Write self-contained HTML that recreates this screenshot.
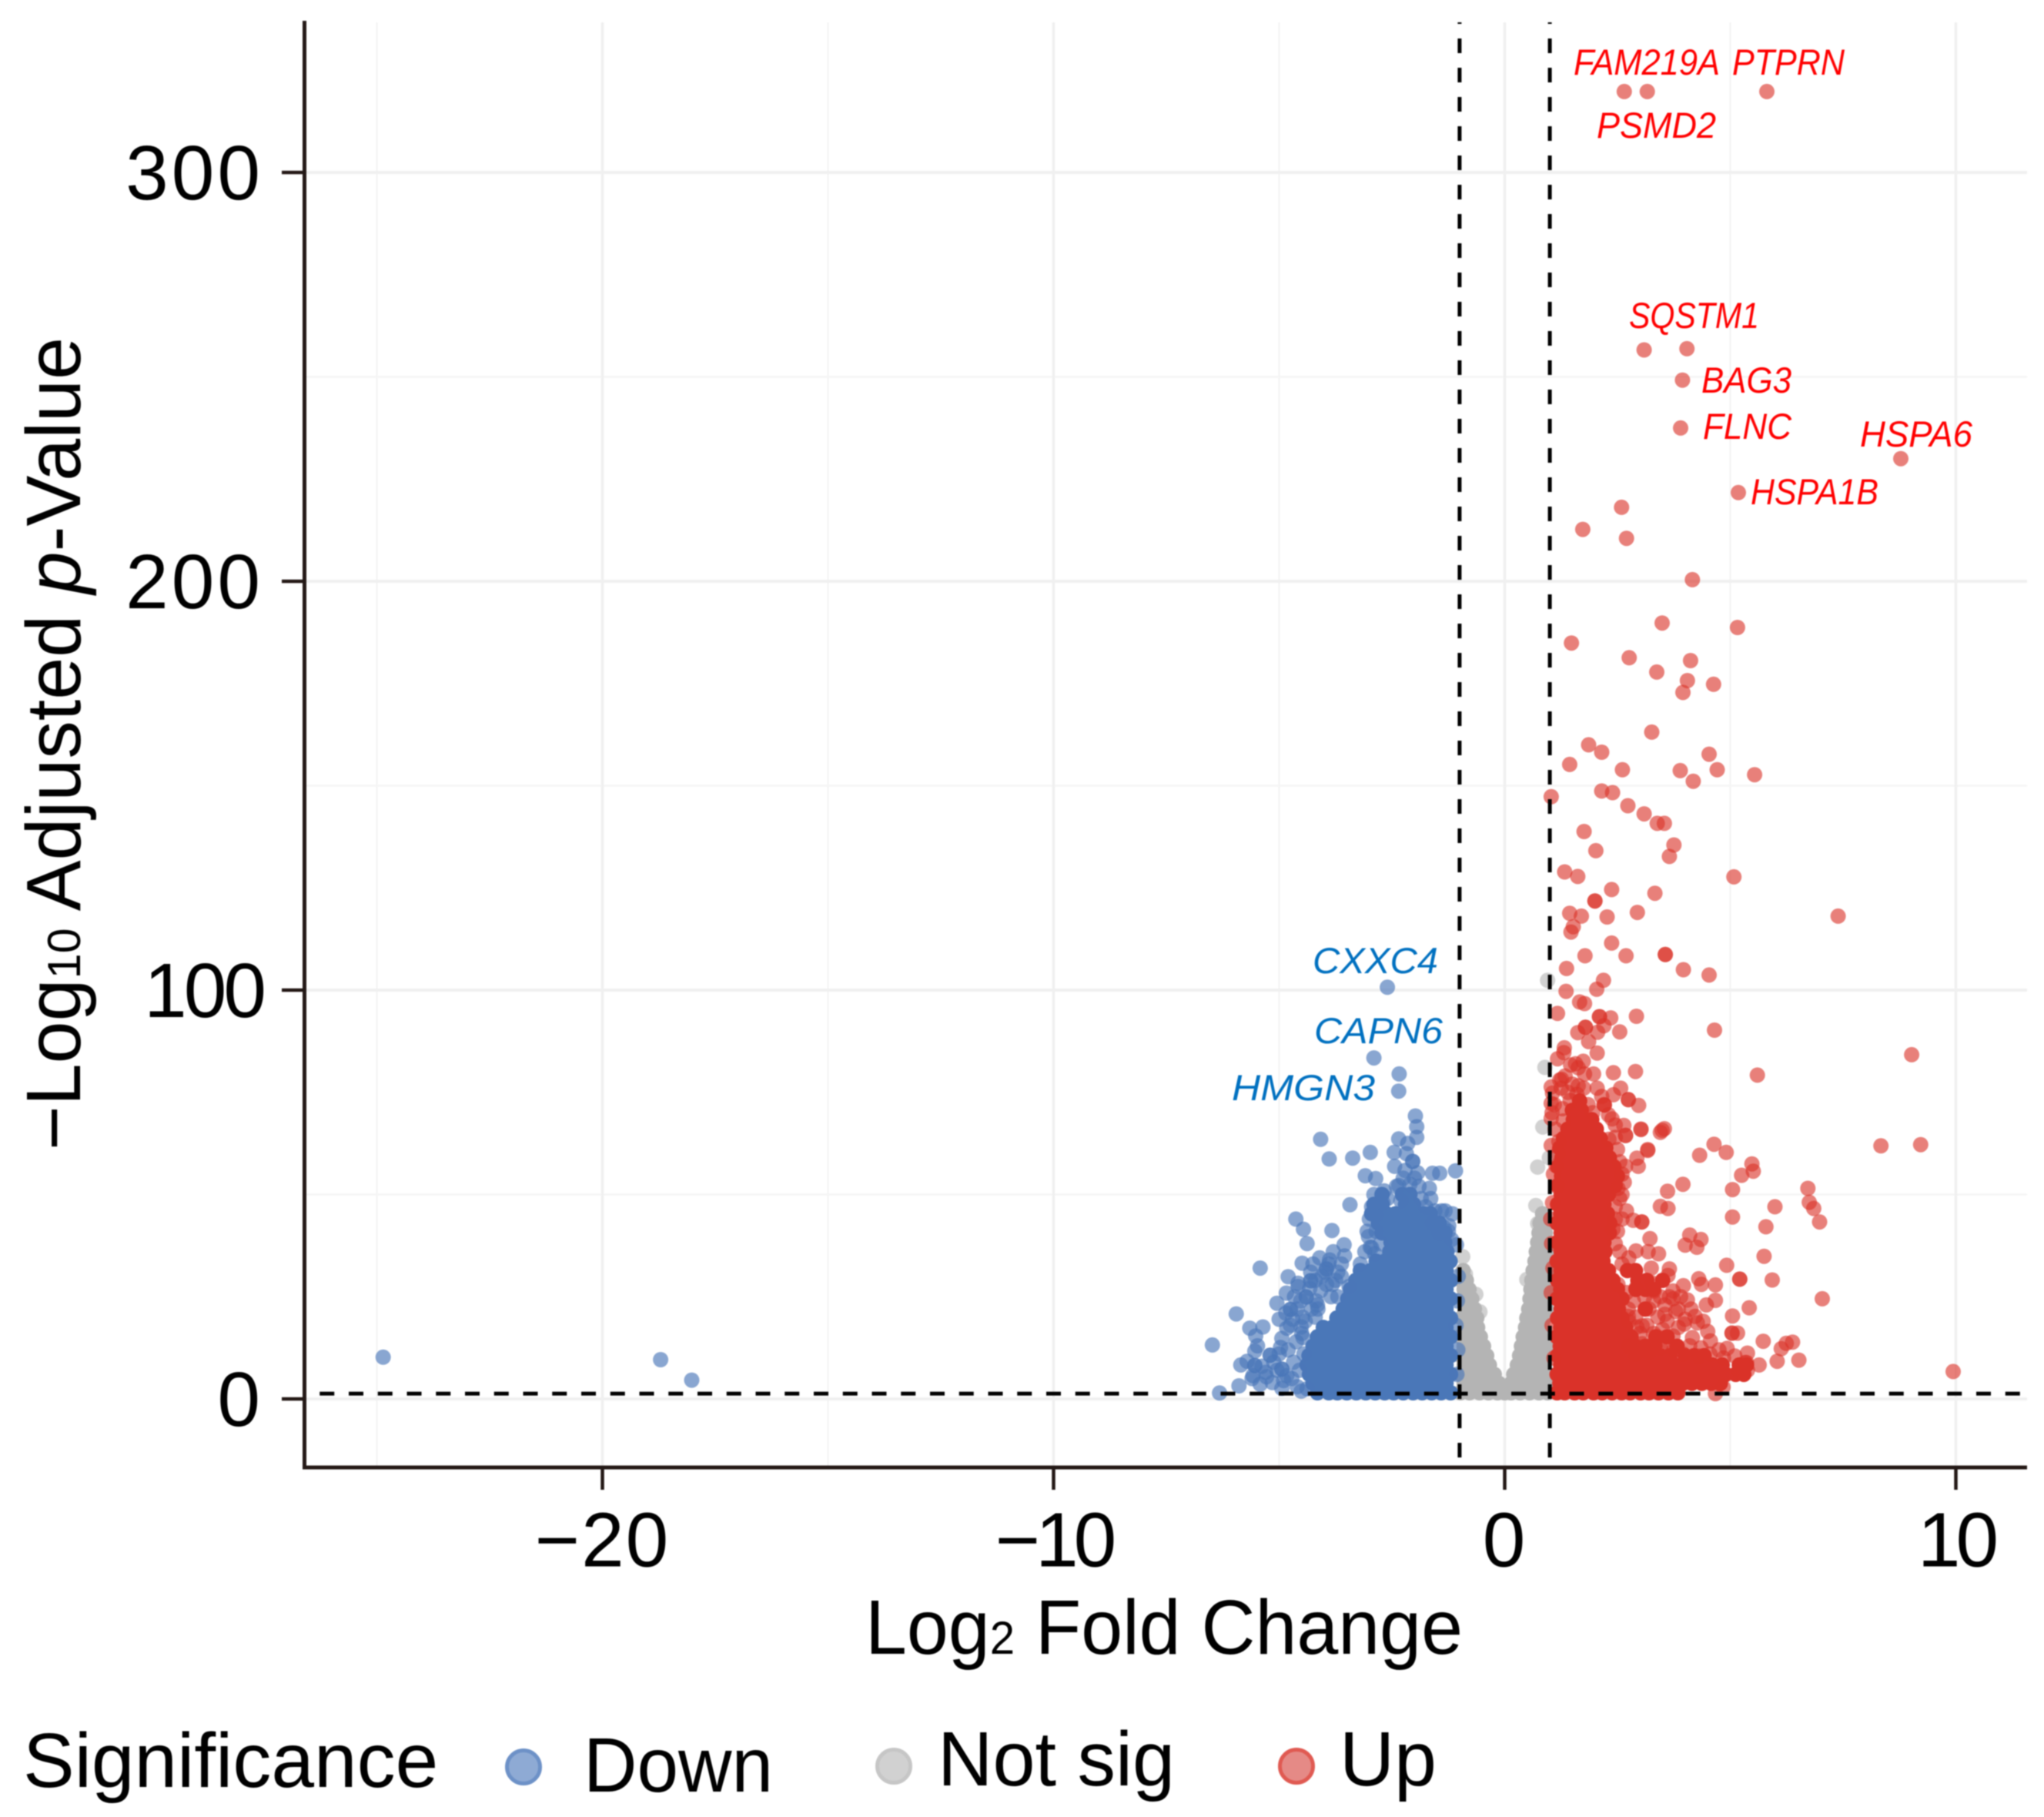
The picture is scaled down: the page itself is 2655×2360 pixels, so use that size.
<!DOCTYPE html>
<html lang="en">
<head>
<meta charset="utf-8">
<title>Volcano plot</title>
<style>
html,body{margin:0;padding:0;background:#fff}
svg{display:block;filter:blur(0.7px)}
text{font-family:"Liberation Sans",Arial,sans-serif;fill:#000}
.gene{font-size:47px;font-style:italic}
.t100{font-size:100px}
</style>
</head>
<body>
<svg id="chart" xmlns="http://www.w3.org/2000/svg" width="2655" height="2360" viewBox="0 0 2655 2360">
<rect width="2655" height="2360" fill="#fff"/>
<g id="grid"></g>
<g id="marks"></g>
<g id="refs"></g>
<g id="axes"></g>

<g>
<text class="gene" x="2044" y="97" style="fill:#f00" textLength="190" lengthAdjust="spacingAndGlyphs">FAM219A</text>
<text class="gene" x="2250" y="97" style="fill:#f00" textLength="146" lengthAdjust="spacingAndGlyphs">PTPRN</text>
<text class="gene" x="2074" y="179" style="fill:#f00" textLength="155" lengthAdjust="spacingAndGlyphs">PSMD2</text>
<text class="gene" x="2116" y="426" style="fill:#f00" textLength="169" lengthAdjust="spacingAndGlyphs">SQSTM1</text>
<text class="gene" x="2210" y="510" style="fill:#f00" textLength="117" lengthAdjust="spacingAndGlyphs">BAG3</text>
<text class="gene" x="2212" y="570" style="fill:#f00" textLength="115" lengthAdjust="spacingAndGlyphs">FLNC</text>
<text class="gene" x="2416" y="580" style="fill:#f00" textLength="146" lengthAdjust="spacingAndGlyphs">HSPA6</text>
<text class="gene" x="2274" y="655" style="fill:#f00" textLength="166" lengthAdjust="spacingAndGlyphs">HSPA1B</text>
<text class="gene" x="1705" y="1264" style="fill:#0070c0" textLength="163" lengthAdjust="spacingAndGlyphs">CXXC4</text>
<text class="gene" x="1707" y="1355" style="fill:#0070c0" textLength="167" lengthAdjust="spacingAndGlyphs">CAPN6</text>
<text class="gene" x="1600" y="1429" style="fill:#0070c0" textLength="186" lengthAdjust="spacingAndGlyphs">HMGN3</text>
</g>

<text class="t100" x="1124" y="2148" textLength="776" lengthAdjust="spacingAndGlyphs">Log<tspan font-size="60">2</tspan> Fold Change</text>
<text class="t100" transform="translate(104 1494) rotate(-90)" textLength="1056" lengthAdjust="spacingAndGlyphs">−Log<tspan font-size="60">10</tspan> Adjusted <tspan font-style="italic">p</tspan>-Value</text>

<g>
<text class="t100" x="30" y="2321">Significance</text>
<circle cx="680" cy="2295" r="21.5" fill="#8eaad4" stroke="#6d91c7" stroke-width="5"/>
<text class="t100" x="758" y="2327" textLength="246" lengthAdjust="spacingAndGlyphs">Down</text>
<circle cx="1161" cy="2294" r="21.5" fill="#d1d1d1" stroke="#c6c6c6" stroke-width="5"/>
<text class="t100" x="1218" y="2319" textLength="308" lengthAdjust="spacingAndGlyphs">Not sig</text>
<circle cx="1684" cy="2294" r="21.5" fill="#e58a86" stroke="#e05a52" stroke-width="5"/>
<text class="t100" x="1740" y="2319" textLength="126" lengthAdjust="spacingAndGlyphs">Up</text>
</g>
</svg>

<script>
// ---- axis tick values and labels ----
const xTicks = [-20, -10, 0, 10];
const xTickLabels = ['−20', '−10', '0', '10'];
const xMinorGrid = [-25, -15, -5, 5];
const yTicks = [0, 100, 200, 300];
const yTickLabels = ['0', '100', '200', '300'];
const yMinorGrid = [50, 150, 250];
const fcThresholds = [-1, 1];
const pThreshold = 1.3;

// ---- Up: individually read points ----
const upX = [2.65,3.16,5.81,3.09,4.04,3.94,3.9,8.78,5.18,2.59,1.73,2.7,4.16,3.49,5.16,1.48,2.76,4.12,3.37,4.05,4.63,3.95,3.26,1.86,2.15,1.44,4.53,2.61,3.89,4.71,5.54,4.18,1.03,2.15,2.39,2.73,3.09,3.38,3.54,1.76,3.75,2.02,3.65,
5.08,1.33,1.62,2.37,3.33,2,2,1.44,1.7,2.27,2.94,7.39,1.52,1.47,2.37,1.78,2.69,3.56,3.56,1.37,3.96,4.53,2.19,2.04,1.36,1.66,1.77,1.17,2.1,2.1,2.35,2.92,1.79,1.79,1.62,2.2,2.06,2.55,4.65,1.86,1.32,2.05,9.02,1.17,1.31,1.57,1.74,1.46,1.63,1.97,1.77,2.41,2.9,5.6,1.26,1.03,1.06,1.63,2.57,2.41,2.74,2.74,2.97,1.03,2.21,2.21,1.03,2.38,2.64,3.02,3.54,3.45,2.68,2.31,3.17,
8.34,9.22,4.64,4.32,4.91,5.48,5.51,5.25,3.95,3.61,5.05,6.72,6.75,6.85,6.98,3.45,3.62,5.99,5.05,5.79,2.7,2.85,3.04,3.04,3.17,2.93,2.96,2.68,3.02,2.68,3.49,2.6,2.51,2.4,3.22,4.1,4.35,4,4.26,5.75,2.91,3.18,3.41,4.92,3.65,3.25,5.21,5.21,5.93,4.3,4.36,4.67,3.96,3.62,7.04,4.67,4.47,5.42,4.05,5.05,3.73,3.28,2.91,2.51,3.31,3.73,4.13,3.79,3.55,3.11,2.74,2.74,4.22,4.27,3.98,3.05,2.93,5.04,5.04,5.16,4.16,4.56,5.73,3.73,3.39,6.38,6.24,6.13,4.93,5.38,5.33,5.36,5.64,6.04,6.52,5.38,5.21,4.84,4.67,9.94,
1.05,1.03,1.08,1.06,1.02,1.04,1.07,1.03,1.05,1.09,
2.75,2.9,3.05,3.2,3.45,3.6,3.75,3.95,4.1,4.3,3,3.15,3.3,3.5,3.6,3.4,3.85,3.2,3.3,3.45,3.1,2.85,2.7,2.9,2.75,3.55,3.65,3.85,3.9,4,4.4,4.5,4.35,4.55,4.75,4.85,5.1,2.6,2.75,2.55,2.45,2.5,2.45,2.6,2.45,2.55,2.6,2.65,2.55,2.5,2.45,2.45,2.3,2.2,2.15,2.05,
1.3,1.28,1.45,1.85,1.95,1.4,1.6,1.75,1.2,1.5,1.25,1.12,1.18,1.1,1.14,1.16,1.22,1.34];
const upY = [319.8,319.8,319.8,256.6,256.9,249.2,237.5,230,221.7,218.1,212.7,210.5,200.4,189.8,188.7,184.9,181.3,180.6,177.8,175.7,174.8,172.8,163.1,160,158.2,155.2,157.7,153.9,153.7,153.9,152.7,151.1,147.3,148.7,148.3,145.1,143.1,140.8,140.8,138.8,135.5,134.1,132.7,
127.7,128.9,127.8,124.6,123.7,121.8,121.8,118.8,118.1,117.9,119,118.1,115.5,114.2,111.5,108.4,108.4,108.7,108.7,105.3,105,103.7,102.4,100.2,99.7,97.1,96.7,94.3,93.5,93.5,93.2,93.6,90.9,90.9,89.6,91.3,89.7,89.8,90.2,87.4,85.9,84.6,84.2,83.2,84.7,82,82.6,81.7,81,79.5,79.5,79.8,80.1,79.2,78.2,76.3,74.8,76.6,76,74.4,73.2,73.2,71.8,72.3,71.9,71.9,68.6,68.5,66.9,66,66.1,65.2,64.5,63.5,61,
61.9,62.2,62.3,59.6,60.3,57.5,55.7,54.7,52.5,50.8,51.2,51.5,48.1,46.6,43.3,47.1,46.6,47,44.5,42.1,46,43.7,43.3,43.3,60.8,58.9,56.9,56.9,65.9,64.4,65.7,50,51.5,41.5,39.2,40.1,39,37.6,37.1,34.9,36.2,36,35.5,32.7,31.8,32,29.3,29.3,29.1,29.4,28,27.9,27.7,30.2,24.5,24.1,23,22.3,24.2,20.3,26.4,28.3,27.1,28,26.4,24.5,22,21.4,20.7,22,22,20.2,20.2,18.6,18.3,17.9,17.6,16.1,16.1,16.1,15,14.2,14.1,15.4,15.1,13.9,13.6,12.3,12.4,11.2,8.9,8.9,8.3,9.2,9.5,7,6.6,2.9,1.3,6.7,
70,62,55,48,44,38,32,26,18,10,
13,11,13.5,11.5,12.5,14,12,11,13,10.5,16,18,16,17,19,20,17.5,22,24,25,25,24,26,20,19,23,25,22,25,19.5,19,16.5,12.5,11,12,10,10.5,33,34.5,36,38,41,44,44,47,49,55,53,58,61,64,67,69.5,72,74,76,
68,71,73,72,70,75,74.5,76,63,77,76,66,60,72,57,52,78,79];

// ---- Up: densely overplotted rows (one y value, many x values) ----
const upCoreY = [1.5,3.8,6,8.3,10.6,12.9,15.2,17.5,19.8,22,24.5,26.8,29,31.4,33.7,36,38.3,40.6,43,45.3,47.6,50,52.2,54.5,56.8,59,61.4,63.7,66,68.3,70.6,72.9];
const upCoreX = [
[1.16,1.33,1.55,1.74,1.97,2.16,2.38,2.59,2.78,3.01,3.2,3.41,3.63,3.84],
[1.22,1.43,1.62,1.85,2.06,2.27,2.47,2.7,2.9,3.11,3.32,3.52,3.74,3.95,4.15,4.37,4.58,4.78],
[1.16,1.35,1.54,1.76,1.96,2.18,2.39,2.6,2.81,3,3.23,3.44,3.65,3.85,4.07,4.28,4.49,4.7,4.9,5.12,5.3],
[1.24,1.44,1.66,1.87,2.07,2.29,2.5,2.7,2.92,3.13,3.34,3.55,3.76,3.96,4.18,4.39,4.6,4.82,5.2,5.36],
[1.17,1.34,1.56,1.76,1.98,2.19,2.4,2.61,2.82,3.03,3.24,3.45,3.66,4,4.2,4.42],
[1.23,1.45,1.65,1.86,2.08,2.28,2.5,2.71,2.9,3.12,3.33,3.82],
[1.16,1.34,1.55,1.77,1.97,2.18,2.39,2.6,2.8,3.35,3.6],
[1.24,1.44,1.65,1.86,2.07,2.28,2.49,2.68],
[1.17,1.35,1.56,1.76,1.97,2.18,2.4,2.6],
[1.25,1.44,1.66,1.87,2.08,2.3,2.52,3.12],
[1.16,1.35,1.56,1.77,1.98,2.2,2.42,2.6],
[1.24,1.45,1.66,1.87,2.1,2.3,2.5,2.91,3.12,3.3],
[1.17,1.35,1.56,1.77,1.98,2.2,2.4,2.95,3.15,3.5],
[1.25,1.46,1.67,1.88,2.08,2.3,2.72,2.9],
[1.16,1.36,1.57,1.78,1.99,2.18],
[1.25,1.46,1.67,1.88,2.1,2.22],
[1.17,1.35,1.56,1.77,1.99,2.2],
[1.25,1.46,1.67,1.88,2.1,2.32],
[1.16,1.34,1.55,1.76,1.98,2.18,2.33],
[1.24,1.45,1.66,1.87,2.08,2.28],
[1.17,1.35,1.56,1.78,1.98,2.2],
[1.25,1.46,1.66,1.88,2.09,2.3],
[1.18,1.36,1.57,1.78,2,2.2,2.45],
[1.26,1.47,1.67,1.89,2.1,2.31,2.5],
[1.18,1.37,1.58,1.79,2,2.22,2.42],
[1.27,1.48,1.68,1.9,2.11,2.32],
[1.22,1.38,1.6,1.8,2.02,2.24],
[1.3,1.49,1.7,1.91,2.12],
[1.4,1.61,1.82,2.03],
[1.52,1.72,1.93],
[1.5,1.7],
[1.66]
];

// ---- Down: individually read points ----
const downX = [-24.86,-18.71,-18.02,-2.6,-2.9,-2.34,-2.35,-1.98,-1.95,-1.95,-2.35,-2.15,-4.08,-3.89,-3.37,-2.98,-2.45,-2.44,-2.18,-2.04,-2.04,-1.93,-2.21,-1.6,-1.44,-1.09,-3.09,-2.86,-1.67,-1.64,-2.35,-2.1,-2.67,-3.43,-1.32,-1.16,-1.24,-4.63,-4.46,-4.38,-3.83,-3.56,-3.02,-2.98,-1.07,-5.42,-4.49,-4.8,-3.95,-3.95,-4.3,-4.3,-4.58,-4.84,-4.4,-5.05,-4.75,-4.75,-5,-5.95,-5.65,-5.36,-5.52,-4.83,-4.51,-4.94,-6.48,-5.54,-5.2,-5.2,-4.97,-5.85,-5.54,-5.54,-5.71,-4.94,-4.94,-5.58,-5.28,-4.83,-5.89,-4.94,-6.32,-4.51,
-4.14,-3.7,-3.45,-3.62,-3.82,-4.2,-3.2,-2.88,-1.03,-1.05,-1.08,-1.04,-1.06,
-4.6,-4.72,-4.55,-4.68,-4.45,-4.8,-4.62,-4.5,-5.05,-5.12,-4.9,-5,-5.3,-5.15,-4.75,-4.48,-4.6,-4.7,-4.52,-4.85,-4.4,-4.28,-4.18,-4.32,-4.42,-4.08,-4.2,-4.3,-3.95,-4.05,-4.15,-3.85,-3.98,-3.9,-4.1,-3.75,-3.88,-3.8,-3.7,-3.62,-3.55,-4.47,-4.58,-4.66,-5.42,-5.38,-5.6,-5.48,-4.38,-4.25,
-2.95,-2.85,-2.7,-3,-2.9,-2.6,-3.05,-2.85,-2.75,-2.95,-3.1,-1.85,-1.75,-1.6,-1.45,-1.35,-1.25,-1.18,-1.9,-2,-2.25,-2.4,-2.3,-1.4,-1.55];
const downY = [10.2,9.6,4.6,100.7,83.4,79.5,75.3,69.2,66.6,64,63.6,62.5,63.5,58.7,58.9,60.3,60.3,56.9,60,58.1,58.1,55.3,55.9,55.2,55.2,55.8,54.6,53.9,51.5,49,52.2,52.5,50.9,47.5,46,45.3,42.4,44,41.5,38,41.2,37.7,39.7,37.1,37.7,32,33.2,29.9,31.8,31.8,28.9,28.9,28.3,25.9,24.9,23.4,21.9,21.9,19.5,20.8,17.3,17.6,15.4,17.3,17.6,14.8,13.2,11.7,10.7,10.7,12.6,8.3,8.2,8.2,9.2,7.3,7.3,5.7,5.4,5.7,3.2,2.6,1.45,1.9,
22,25,27.5,30,28,20,33,35.5,30,24,18,12,6,
3,5,7,9,11,12,14,16,7,9,4.5,11,6.5,4,18,20,22,19.5,24,21,25,22,24,27,19,26.5,29,31,28,30,23,25,31,33,34.5,29,34,36,31,33,35,15,27.5,25,3.6,8,5,13,2.5,33,
47,45,48,44,50,49,41,41,38,37,36,49,47,43,40.5,42,41,39,52,54,54,52,48.5,46,46];

// ---- Down: densely overplotted rows ----
const downCoreY = [1.5,3.8,6,8.3,10.6,12.9,15.2,17.5,19.8,22,24.5,26.8,29,31.4,33.7,36,38.3,40.6,43,45.3,47.6,50];
const downCoreX = [
[-1.2,-1.41,-1.62,-1.83,-2.03,-2.25,-2.46,-2.66,-2.87,-3.08,-3.29,-3.5,-3.71,-3.9,-4.15],
[-1.3,-1.51,-1.72,-1.93,-2.14,-2.35,-2.56,-2.77,-2.98,-3.18,-3.4,-3.6,-3.82,-4.02,-4.25],
[-1.2,-1.41,-1.62,-1.82,-2.04,-2.25,-2.45,-2.67,-2.88,-3.08,-3.3,-3.5,-3.71,-3.92,-4.13,-4.33],
[-1.3,-1.5,-1.72,-1.93,-2.14,-2.34,-2.55,-2.77,-2.97,-3.19,-3.39,-3.6,-3.81,-4.02,-4.23,-4.38],
[-1.2,-1.41,-1.61,-1.83,-2.03,-2.24,-2.46,-2.66,-2.87,-3.08,-3.29,-3.5,-3.7,-3.92,-4.12,-4.34],
[-1.3,-1.51,-1.72,-1.92,-2.14,-2.35,-2.55,-2.76,-2.98,-3.18,-3.4,-3.6,-3.81,-4.02,-4.25],
[-1.2,-1.4,-1.62,-1.83,-2.04,-2.24,-2.45,-2.66,-2.87,-3.08,-3.28,-3.5,-3.71,-3.92,-4.15],
[-1.3,-1.51,-1.71,-1.93,-2.13,-2.35,-2.55,-2.77,-2.97,-3.18,-3.39,-3.6,-3.82,-4.02],
[-1.2,-1.41,-1.62,-1.82,-2.04,-2.24,-2.46,-2.66,-2.87,-3.08,-3.29,-3.5,-3.72],
[-1.3,-1.5,-1.72,-1.93,-2.14,-2.34,-2.56,-2.76,-2.98,-3.18,-3.4,-3.58],
[-1.2,-1.41,-1.61,-1.83,-2.03,-2.25,-2.45,-2.67,-2.87,-3.08,-3.3,-3.48],
[-1.3,-1.51,-1.72,-1.92,-2.14,-2.34,-2.56,-2.76,-2.98,-3.19,-3.42],
[-1.2,-1.4,-1.62,-1.83,-2.03,-2.25,-2.45,-2.66,-2.87,-3.08,-3.3],
[-1.3,-1.51,-1.71,-1.93,-2.13,-2.35,-2.55,-2.77,-2.97,-3.2],
[-1.21,-1.42,-1.62,-1.83,-2.04,-2.25,-2.46,-2.66,-2.85],
[-1.28,-1.5,-1.72,-1.93,-2.13,-2.35,-2.55],
[-1.33,-1.52,-1.71,-1.92,-2.13,-2.33,-2.52],
[-1.32,-1.5,-1.7,-1.92,-2.12,-2.33,-2.52,-2.72],
[-1.45,-1.62,-1.82,-2.03,-2.23,-2.45,-2.62,-2.8],
[-1.65,-1.8,-2,-2.22,-2.42,-2.62,-2.76,-2.95],
[-2.02,-2.2,-2.72,-2.9],
[-2.1,-2.27,-2.72]
];

// ---- Not significant: individually read points ----
const nsX = [0.95,0.89,0.845,0.99,0.73,0.69,0.73,0.49,-0.64,-0.55,-0.93,-0.87];
const nsY = [102.4,81.1,66.5,59,56.7,47.3,42.9,29.2,25.6,21.3,34.8,30.5];

// ---- Not significant: densely overplotted rows ----
const nsCoreY = [1.5,3.8,6,8.3,10.6,12.9,15.2,17.5,19.8,22,24.5,26.8,29,31.4,33.7,36,38.3,40.6,43,45.3];
const nsCoreX = [
[-0.98,-0.78,-0.56,-0.36,-0.16,0,0.14,0.34,0.55,0.76,0.95],
[-0.9,-0.7,-0.5,-0.3,-0.13,0.14,0.32,0.52,0.72,0.92],
[-0.98,-0.78,-0.58,-0.4,-0.23,0.2,0.38,0.58,0.78,0.96],
[-0.9,-0.72,-0.52,-0.34,0.28,0.46,0.66,0.86],
[-0.98,-0.8,-0.6,-0.4,0.33,0.52,0.72,0.92],
[-0.9,-0.7,-0.47,0.37,0.56,0.76,0.95],
[-0.98,-0.78,-0.54,0.41,0.6,0.8],
[-0.88,-0.6,0.46,0.64,0.84],
[-0.96,-0.76,-0.62,0.49,0.68,0.88],
[-0.86,-0.67,0.53,0.72,0.92],
[-0.94,-0.73,0.56,0.74,0.92],
[-0.9,-0.79,0.58,0.76,0.94],
[-0.96,-0.85,0.6,0.78,0.94],
[-0.92,0.63,0.8,0.95],
[0.67,0.82,0.96],
[0.7,0.85,0.96],
[0.73,0.88],
[0.76,0.9],
[0.78,0.92],
[0.84]
];

// ---- axis functions ----
function xScale(v) { return 1954.5 + 58.6 * v; }
function yScale(v) { return 1817 - 5.31 * v; }

const NS = 'http://www.w3.org/2000/svg';
const plotLeft = 395.5, plotRight = 2633, plotTop = 27, plotBottom = 1906;
const gridG = document.getElementById('grid');
const marksG = document.getElementById('marks');
const refsG = document.getElementById('refs');
const axesG = document.getElementById('axes');

function line(parent, x1, y1, x2, y2, stroke, width) {
  const el = document.createElementNS(NS, 'line');
  el.setAttribute('x1', x1);
  el.setAttribute('y1', y1);
  el.setAttribute('x2', x2);
  el.setAttribute('y2', y2);
  el.setAttribute('stroke', stroke);
  el.setAttribute('stroke-width', width);
  parent.appendChild(el);
  return el;
}

function dot(cx, cy, fill, opacity, name) {
  const el = document.createElementNS(NS, 'circle');
  el.setAttribute('cx', xScale(cx).toFixed(1));
  el.setAttribute('cy', yScale(cy).toFixed(1));
  el.setAttribute('r', 10);
  el.setAttribute('fill', fill);
  el.setAttribute('fill-opacity', opacity);
  
  
  marksG.appendChild(el);
}

function drawCore(ys, xs, fill, name) {
  ys.forEach(function (y, i) {
    xs[i].forEach(function (x) { dot(x, y, fill, 1, name); });
  });
}

function drawPoints(xs, ys, fill, opacity, name) {
  xs.forEach(function (x, i) { dot(x, ys[i], fill, opacity, name); });
}

// grid
xMinorGrid.forEach(function (v) {
  const el = line(gridG, xScale(v), 29, xScale(v), plotBottom, '#f3f3f3', 2);
  
  
});
yMinorGrid.forEach(function (v) {
  const el = line(gridG, plotLeft, yScale(v), plotRight, yScale(v), '#f5f5f5', 2.5);
  
  
});
xTicks.forEach(function (v) {
  const el = line(gridG, xScale(v), 29, xScale(v), plotBottom, '#f0f0f0', 3.5);
  
  
});
yTicks.forEach(function (v) {
  const el = line(gridG, plotLeft, yScale(v), plotRight, yScale(v), '#f0f0f0', 4);
  
  
});

// marks
drawCore(nsCoreY, nsCoreX, '#b4b4b4', 'point-not-sig');
drawPoints(nsX, nsY, '#b4b4b4', 0.62, 'point-not-sig');
drawCore(downCoreY, downCoreX, '#4a77b8', 'point-down');
drawPoints(downX, downY, '#4a77b8', 0.65, 'point-down');
drawCore(upCoreY, upCoreX, '#da3229', 'point-up');
drawPoints(upX, upY, '#da3229', 0.62, 'point-up');

// threshold lines
fcThresholds.forEach(function (v) {
  const el = line(refsG, xScale(v), 29, xScale(v), plotBottom, '#000', 5);
  el.setAttribute('stroke-dasharray', '19 19');
  el.setAttribute('stroke-dashoffset', '17');
  
  
});
const pLine = line(refsG, plotLeft, yScale(pThreshold), plotRight, yScale(pThreshold), '#000', 5);
pLine.setAttribute('stroke-dasharray', '19 18.75');
pLine.setAttribute('stroke-dashoffset', '18');



// axes
const yAxisLine = line(axesG, plotLeft, plotTop, plotLeft, plotBottom + 2.5, '#231815', 5);


const xAxisLine = line(axesG, plotLeft - 2.5, plotBottom, plotRight, plotBottom, '#231815', 5);



function tickText(x, y, label, anchor, spacing, name) {
  const el = document.createElementNS(NS, 'text');
  el.setAttribute('x', x);
  el.setAttribute('y', y);
  el.setAttribute('font-size', 100);
  el.setAttribute('text-anchor', anchor);
  el.setAttribute('letter-spacing', spacing);
  
  
  el.textContent = label;
  axesG.appendChild(el);
}

xTicks.forEach(function (v, i) {
  const t = line(axesG, xScale(v), plotBottom, xScale(v), 1935, '#231815', 4.5);
  
  
  const hasOne = xTickLabels[i].indexOf('1') >= 0;
  tickText(xScale(v), 2034.5, xTickLabels[i], 'middle', hasOne ? -6 : 2, 'x-tick-label');
});
yTicks.forEach(function (v, i) {
  const t = line(axesG, 366, yScale(v), plotLeft, yScale(v), '#231815', 4.5);
  
  
  const hasOne = yTickLabels[i].indexOf('1') >= 0;
  tickText(342, yScale(v) + 35, yTickLabels[i], 'end', hasOne ? -4 : 4, 'y-tick-label');
});
</script>
</body>
</html>
